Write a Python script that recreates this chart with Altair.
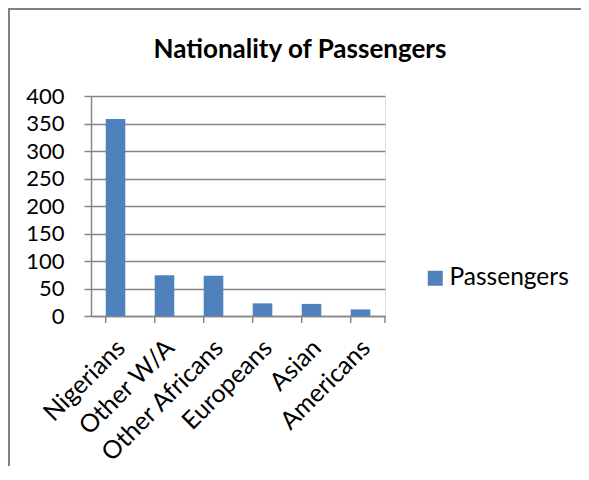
import altair as alt
import pandas as pd

categories = ["Nigerians", "Other W/A", "Other Africans", "Europeans", "Asian", "Americans"]
passengers = [358, 74, 73, 23, 22, 12]
series_name = "Passengers"
chart_title = "Nationality of Passengers"
y_ticks = [0, 50, 100, 150, 200, 250, 300, 350, 400]

df = pd.DataFrame({"Nationality": categories, "Passengers": passengers, "Series": series_name})

FONT = "Lato"
GRAY = "#868686"
W, H = 294, 220

x_enc = alt.X("Nationality:N", sort=categories,
              scale=alt.Scale(paddingInner=0.6, paddingOuter=0.3),
              axis=alt.Axis(title=None, labelAngle=-45, labelFontSize=25, labelFont=FONT,
                            labelColor="black", ticks=False, labelPadding=19, labelOffset=-3,
                            domainColor=GRAY, domainWidth=1.5))

bars = alt.Chart(df).mark_bar(color="#4F81BD").encode(
    x=x_enc,
    y=alt.Y("Passengers:Q", scale=alt.Scale(domain=[0, 400], nice=False),
            axis=alt.Axis(title=None, values=y_ticks, labelFontSize=22, labelFont=FONT,
                          labelColor="black", tickSize=7, tickColor=GRAY, tickWidth=1.5,
                          labelPadding=20, domainColor=GRAY, domainWidth=1.5,
                          gridColor=GRAY, gridWidth=1.5)),
    color=alt.Color("Series:N", scale=alt.Scale(range=["#4F81BD"]),
                    legend=alt.Legend(title=None, orient="none", legendX=332, legendY=170,
                                      symbolType="square", symbolSize=225,
                                      symbolStrokeWidth=0, labelFontSize=24.5,
                                      labelFont=FONT, labelColor="black", labelOffset=2)),
)

ticks = alt.Chart(df).mark_rule(color=GRAY, strokeWidth=1.5).encode(
    x=alt.X("Nationality:N", sort=categories, bandPosition=0),
    y=alt.value(H),
    y2=alt.value(H + 7),
)

end_tick = alt.Chart(alt.Data(values=[{}])).mark_rule(color=GRAY, strokeWidth=1.5).encode(
    x=alt.value(W), y=alt.value(H), y2=alt.value(H + 7)
)

border = alt.Chart(alt.Data(values=[{}])).mark_rect(
    fillOpacity=0, stroke="#808080", strokeWidth=2
).encode(
    x=alt.value(-82), x2=alt.value(700), y=alt.value(-87), y2=alt.value(700)
)

title = alt.Chart(alt.Data(values=[{"t": chart_title}])).mark_text(
    font=FONT, fontSize=26, fontWeight="bold", color="black",
    align="center", baseline="alphabetic"
).encode(
    text="t:N", x=alt.value(209), y=alt.value(-38)
)

chart = alt.layer(border, title, bars, ticks, end_tick).properties(
    width=W, height=H,
    autosize=alt.AutoSizeParams(type="none"),
    padding={"left": 83, "top": 88, "right": 196, "bottom": 150},
).configure_view(stroke=None).configure(background="white")

chart.save("out.html", embed_options={"renderer": "svg", "actions": False})
